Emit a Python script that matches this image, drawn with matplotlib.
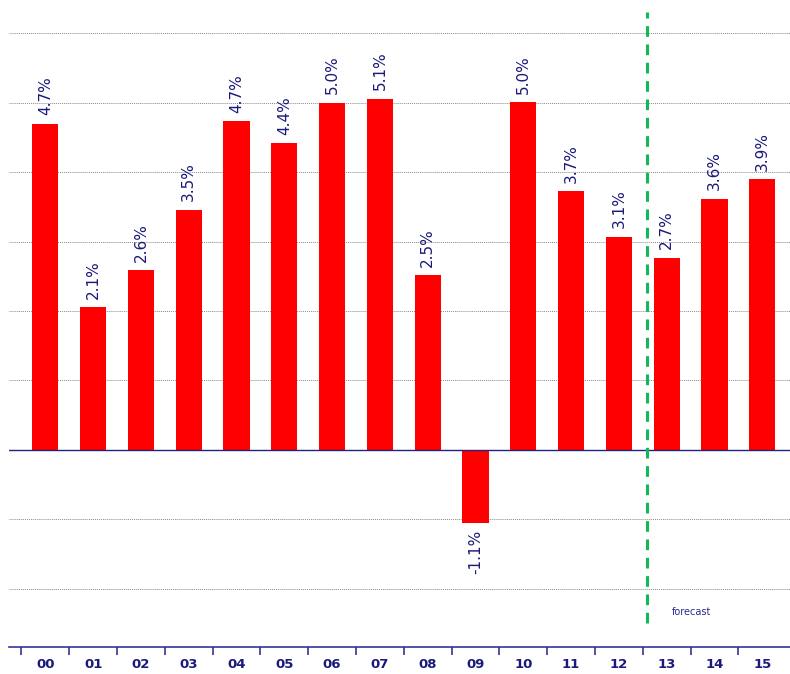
import matplotlib
matplotlib.use("Agg")
import matplotlib.pyplot as plt
import numpy as np

years = ["00", "01", "02", "03", "04", "05", "06", "07", "08", "09", "10", "11", "12", "13", "14", "15"]
growth = [4.70, 2.06, 2.59, 3.46, 4.73, 4.42, 5.00, 5.06, 2.52, -1.05, 5.01, 3.73, 3.07, 2.77, 3.62, 3.90]
labels = ["4.7%", "2.1%", "2.6%", "3.5%", "4.7%", "4.4%", "5.0%", "5.1%", "2.5%", "-1.1%",
          "5.0%", "3.7%", "3.1%", "2.7%", "3.6%", "3.9%"]
forecast_start = 12.58
gridlines = [-2, -1, 1, 2, 3, 4, 5, 6]

navy = "#1a1a7a"
fig = plt.figure(figsize=(7.9, 6.74), dpi=100)
ax = fig.add_axes([9 / 790, 27 / 674, 781 / 790, 647 / 674])

x = np.arange(len(years))
ax.bar(x, growth, width=0.55, color="#ff0000", zorder=2)

for g in gridlines:
    ax.axhline(g, color="#8a8a8a", linestyle=(0, (1, 1)), linewidth=0.7, zorder=1)
ax.axhline(0, color="#22227a", linewidth=1.0, zorder=3)

for xi, v, lab in zip(x, growth, labels):
    if v >= 0:
        ax.annotate(lab, (xi, v), xytext=(0, 6), textcoords="offset points",
                    rotation=90, ha="center", va="bottom", color=navy, fontsize=11)
    else:
        ax.annotate(lab, (xi, v), xytext=(0, -5), textcoords="offset points",
                    rotation=90, ha="center", va="top", color=navy, fontsize=11)

ax.plot([forecast_start, forecast_start], [-2.5, 6.3], color="#12b85a",
        linestyle=(0, (3.5, 2.5)), linewidth=2.2, zorder=4)
ax.text(13.52, -2.33, "forecast", color="#2a2a8a", fontsize=7, ha="center", va="center")

ax.set_xlim(-0.76, 15.58)
ax.set_ylim(-2.84, 6.48)

for s in ["top", "right", "left"]:
    ax.spines[s].set_visible(False)
ax.spines["bottom"].set_color("#333399")
ax.spines["bottom"].set_linewidth(1.2)
ax.set_yticks([])

ax.set_xticks(np.arange(-0.5, 15.5, 1.0), minor=False)
ax.set_xticklabels([])
ax.tick_params(axis="x", which="major", length=6, width=1.2, color="#333399", direction="out")
ax.set_xticks(x, minor=True)
ax.set_xticklabels(years, minor=True, fontsize=9.5, fontweight="bold", color=navy)
ax.tick_params(axis="x", which="minor", length=0, pad=8)

fig.savefig("out.png", dpi=100)
